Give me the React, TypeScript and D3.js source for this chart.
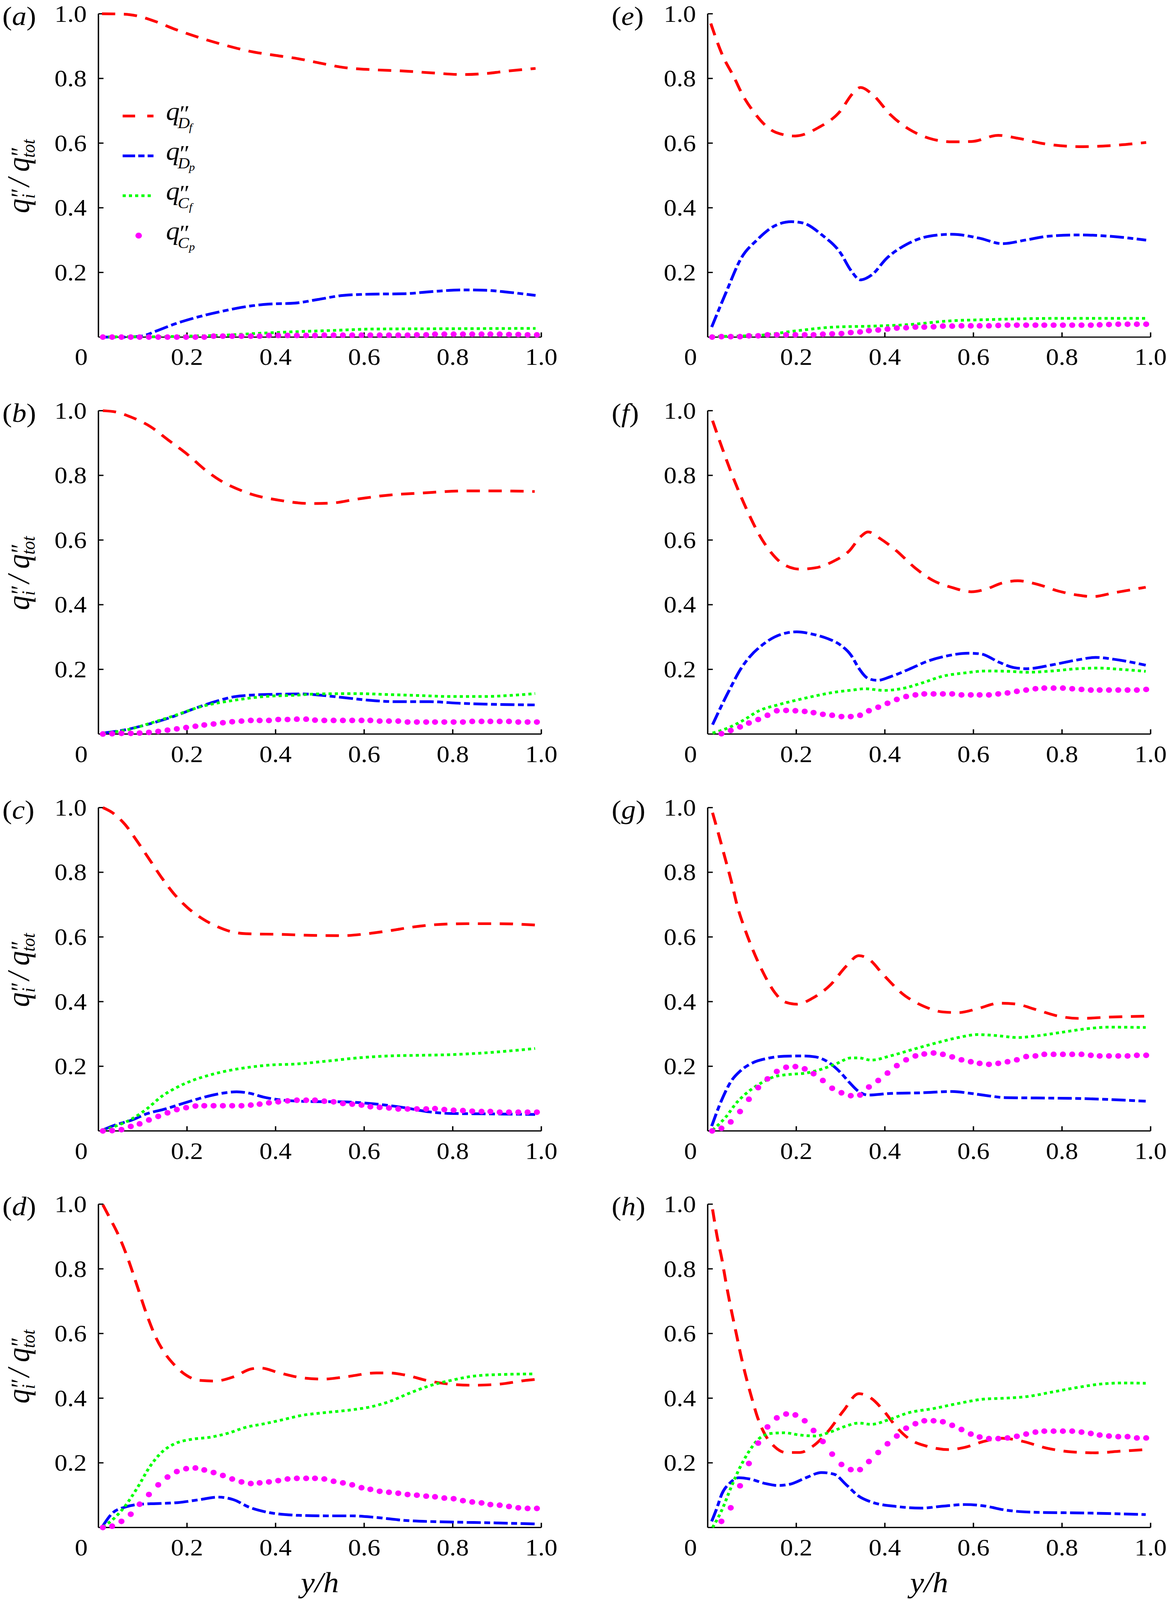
import React, { useEffect } from "react";
import * as d3 from "d3";

type Pt = [number, number];

// layout (reference pixels, viewBox units)
const FONT = "'Liberation Serif', 'Times New Roman', Times, serif";
const VW = 2988;
const VH = 4414;
const COL_X = [252, 1812];
const ROW_TOP = [38, 1133, 2228, 3322];
const PW = 1134;
const PH = 892;

const tickValues = [0.2, 0.4, 0.6, 0.8, 1.0];
const tickLabels = ["0.2", "0.4", "0.6", "0.8", "1.0"];

// y/h positions of the q''_Cp symbols (same grid in every panel)
const gridX = [
  0.010, 0.031, 0.052, 0.073, 0.093, 0.114, 0.135, 0.156, 0.177, 0.198, 0.219, 0.239,
  0.260, 0.281, 0.302, 0.323, 0.344, 0.364, 0.385, 0.406, 0.427, 0.448, 0.469, 0.489,
  0.510, 0.531, 0.552, 0.573, 0.594, 0.614, 0.635, 0.656, 0.677, 0.698, 0.719, 0.740,
  0.760, 0.781, 0.802, 0.823, 0.844, 0.865, 0.885, 0.906, 0.927, 0.948, 0.969, 0.990,
];

// (a)
const aDf: Pt[] = [[0.008,1.0],[0.055,0.999],[0.089,0.993],[0.131,0.975],[0.173,0.952],[0.224,0.928],[0.283,0.904],[0.342,0.884],[0.401,0.871],[0.451,0.861],[0.502,0.847],[0.553,0.834],[0.62,0.827],[0.688,0.823],[0.755,0.817],[0.823,0.812],[0.873,0.815],[0.924,0.823],[0.987,0.831]];
const aDp: Pt[] = [[0.008,0.0],[0.063,0.0],[0.097,0.003],[0.131,0.019],[0.173,0.041],[0.224,0.062],[0.283,0.081],[0.342,0.096],[0.384,0.102],[0.443,0.105],[0.494,0.116],[0.553,0.129],[0.62,0.133],[0.688,0.134],[0.755,0.141],[0.823,0.146],[0.873,0.145],[0.924,0.139],[0.987,0.129]];
const aCf: Pt[] = [[0.008,0.001],[0.114,0.001],[0.198,0.003],[0.283,0.006],[0.367,0.012],[0.451,0.017],[0.536,0.021],[0.62,0.025],[0.789,0.026],[0.987,0.027]];
const aCp = [0,0,0,0,0,0,0,0,0,0,0,0,0.003,0.003,0.003,0.003,0.003,0.003,0.005,0.005,0.005,0.005,0.005,0.005,0.006,0.006,0.006,0.006,0.006,0.006,0.006,0.006,0.006,0.006,0.007,0.007,0.009,0.009,0.009,0.009,0.009,0.009,0.009,0.009,0.008,0.008,0.007,0.007];

// (b)
const bDf: Pt[] = [[0.01,1.0],[0.039,0.996],[0.074,0.98],[0.116,0.952],[0.158,0.909],[0.2,0.866],[0.242,0.816],[0.284,0.777],[0.312,0.759],[0.347,0.741],[0.404,0.724],[0.48,0.713],[0.523,0.714],[0.586,0.727],[0.656,0.739],[0.726,0.745],[0.832,0.752],[0.902,0.752],[0.985,0.75]];
const bDp: Pt[] = [[0.01,0.003],[0.06,0.013],[0.095,0.024],[0.137,0.04],[0.179,0.059],[0.221,0.081],[0.263,0.1],[0.305,0.115],[0.34,0.12],[0.404,0.123],[0.46,0.124],[0.502,0.12],[0.551,0.113],[0.607,0.105],[0.677,0.1],[0.747,0.1],[0.818,0.095],[0.888,0.092],[0.985,0.09]];
const bCf: Pt[] = [[0.01,0.002],[0.074,0.016],[0.116,0.033],[0.165,0.054],[0.235,0.086],[0.305,0.104],[0.375,0.116],[0.446,0.12],[0.495,0.124],[0.586,0.125],[0.656,0.122],[0.726,0.119],[0.796,0.116],[0.867,0.116],[0.937,0.12],[0.986,0.125]];
const bCp = [0,0.001,0.002,0.002,0.003,0.005,0.008,0.012,0.016,0.02,0.024,0.028,0.031,0.035,0.038,0.04,0.042,0.042,0.042,0.045,0.045,0.046,0.046,0.043,0.042,0.042,0.042,0.042,0.042,0.042,0.04,0.04,0.04,0.037,0.037,0.037,0.037,0.037,0.037,0.037,0.039,0.039,0.039,0.039,0.039,0.037,0.037,0.037];

// (c)
const cDf: Pt[] = [[0.01,1.0],[0.032,0.984],[0.06,0.948],[0.088,0.895],[0.116,0.838],[0.144,0.781],[0.172,0.731],[0.2,0.692],[0.235,0.656],[0.27,0.631],[0.298,0.617],[0.333,0.61],[0.41,0.608],[0.481,0.605],[0.551,0.604],[0.607,0.61],[0.656,0.619],[0.712,0.631],[0.761,0.638],[0.832,0.641],[0.902,0.641],[0.986,0.637]];
const cDp: Pt[] = [[0.01,0.003],[0.039,0.019],[0.074,0.033],[0.109,0.053],[0.151,0.068],[0.193,0.086],[0.235,0.103],[0.277,0.116],[0.312,0.121],[0.34,0.117],[0.375,0.104],[0.418,0.095],[0.481,0.091],[0.551,0.09],[0.621,0.084],[0.691,0.072],[0.747,0.059],[0.796,0.054],[0.867,0.053],[0.986,0.051]];
const cCf: Pt[] = [[0.01,0.002],[0.039,0.015],[0.074,0.036],[0.109,0.068],[0.144,0.108],[0.179,0.136],[0.214,0.157],[0.249,0.172],[0.291,0.186],[0.34,0.197],[0.389,0.204],[0.446,0.207],[0.516,0.216],[0.586,0.226],[0.656,0.232],[0.726,0.234],[0.796,0.236],[0.867,0.241],[0.986,0.255]];
const cCp = [0,0.001,0.004,0.014,0.022,0.034,0.045,0.056,0.066,0.072,0.077,0.078,0.078,0.078,0.078,0.078,0.08,0.083,0.087,0.09,0.093,0.095,0.095,0.095,0.092,0.09,0.085,0.083,0.08,0.075,0.073,0.071,0.068,0.068,0.068,0.068,0.069,0.066,0.064,0.063,0.061,0.06,0.06,0.058,0.058,0.058,0.058,0.058];

// (d)
const dDf: Pt[] = [[0.01,0.998],[0.025,0.959],[0.046,0.902],[0.067,0.83],[0.088,0.745],[0.109,0.659],[0.13,0.587],[0.151,0.537],[0.172,0.502],[0.196,0.473],[0.228,0.455],[0.263,0.453],[0.305,0.466],[0.347,0.491],[0.368,0.493],[0.404,0.48],[0.46,0.463],[0.509,0.459],[0.558,0.466],[0.628,0.478],[0.656,0.478],[0.691,0.472],[0.747,0.453],[0.796,0.443],[0.846,0.44],[0.902,0.443],[0.965,0.455],[0.986,0.458]];
const dDp: Pt[] = [[0.01,0.005],[0.032,0.045],[0.06,0.063],[0.095,0.072],[0.13,0.074],[0.179,0.077],[0.228,0.086],[0.27,0.094],[0.305,0.086],[0.34,0.063],[0.375,0.049],[0.446,0.038],[0.516,0.036],[0.572,0.036],[0.628,0.031],[0.691,0.022],[0.761,0.018],[0.832,0.016],[0.902,0.014],[0.986,0.011]];
const dCf: Pt[] = [[0.01,0.002],[0.032,0.024],[0.06,0.066],[0.088,0.123],[0.116,0.188],[0.144,0.234],[0.172,0.259],[0.207,0.272],[0.256,0.28],[0.291,0.291],[0.333,0.31],[0.375,0.321],[0.418,0.334],[0.46,0.347],[0.509,0.355],[0.572,0.364],[0.614,0.373],[0.656,0.389],[0.698,0.413],[0.747,0.438],[0.796,0.455],[0.846,0.468],[0.902,0.473],[0.986,0.475]];
const dCp = [0,0.004,0.019,0.041,0.072,0.102,0.132,0.156,0.173,0.182,0.184,0.178,0.17,0.161,0.15,0.141,0.136,0.138,0.141,0.145,0.15,0.152,0.152,0.152,0.15,0.143,0.138,0.132,0.123,0.118,0.112,0.109,0.106,0.102,0.1,0.097,0.095,0.091,0.089,0.083,0.079,0.076,0.071,0.069,0.065,0.061,0.059,0.059];

// (e)
const eDf: Pt[] = [[0.007,0.97],[0.033,0.873],[0.059,0.805],[0.08,0.746],[0.102,0.7],[0.154,0.633],[0.197,0.622],[0.25,0.648],[0.3,0.7],[0.327,0.753],[0.345,0.772],[0.37,0.753],[0.414,0.686],[0.457,0.641],[0.5,0.615],[0.552,0.604],[0.596,0.605],[0.656,0.624],[0.7,0.615],[0.76,0.598],[0.847,0.589],[0.907,0.592],[0.99,0.602]];
const eDp: Pt[] = [[0.009,0.031],[0.042,0.14],[0.076,0.245],[0.111,0.3],[0.154,0.346],[0.189,0.357],[0.215,0.353],[0.258,0.316],[0.3,0.26],[0.323,0.207],[0.345,0.177],[0.37,0.192],[0.405,0.245],[0.448,0.286],[0.5,0.312],[0.552,0.318],[0.613,0.306],[0.665,0.289],[0.717,0.3],[0.769,0.312],[0.838,0.316],[0.907,0.312],[0.99,0.3]];
const eCf: Pt[] = [[0.009,0.002],[0.11,0.005],[0.197,0.019],[0.284,0.031],[0.37,0.034],[0.457,0.039],[0.544,0.05],[0.63,0.054],[0.8,0.058],[0.99,0.058]];
const eCp = [0,0.0015,0.0015,0.0015,0.004,0.004,0.007,0.007,0.007,0.007,0.007,0.007,0.009,0.01,0.011,0.014,0.016,0.02,0.022,0.025,0.028,0.029,0.031,0.031,0.032,0.034,0.034,0.035,0.035,0.035,0.035,0.036,0.037,0.037,0.037,0.037,0.037,0.037,0.037,0.037,0.037,0.037,0.038,0.039,0.04,0.04,0.04,0.04];

// (f)
const fDf: Pt[] = [[0.011,0.969],[0.032,0.887],[0.053,0.809],[0.074,0.738],[0.095,0.674],[0.116,0.617],[0.144,0.56],[0.172,0.524],[0.208,0.51],[0.243,0.514],[0.285,0.535],[0.32,0.567],[0.345,0.61],[0.362,0.625],[0.391,0.603],[0.426,0.567],[0.468,0.514],[0.51,0.474],[0.552,0.453],[0.595,0.44],[0.63,0.449],[0.665,0.467],[0.7,0.474],[0.742,0.464],[0.792,0.442],[0.834,0.43],[0.869,0.425],[0.918,0.437],[0.989,0.454]];
const fDp: Pt[] = [[0.011,0.029],[0.032,0.09],[0.053,0.147],[0.074,0.2],[0.095,0.239],[0.123,0.275],[0.151,0.3],[0.179,0.313],[0.201,0.316],[0.236,0.309],[0.271,0.295],[0.299,0.276],[0.324,0.243],[0.341,0.204],[0.362,0.172],[0.384,0.166],[0.412,0.177],[0.454,0.2],[0.496,0.225],[0.538,0.241],[0.588,0.25],[0.616,0.248],[0.658,0.222],[0.693,0.205],[0.721,0.202],[0.778,0.214],[0.834,0.229],[0.876,0.237],[0.918,0.231],[0.989,0.213]];
const fCf: Pt[] = [[0.011,0.003],[0.046,0.019],[0.081,0.043],[0.116,0.072],[0.158,0.09],[0.201,0.105],[0.243,0.118],[0.285,0.129],[0.327,0.136],[0.355,0.14],[0.398,0.135],[0.44,0.141],[0.482,0.157],[0.531,0.179],[0.581,0.189],[0.63,0.195],[0.679,0.194],[0.721,0.191],[0.778,0.195],[0.834,0.202],[0.883,0.204],[0.932,0.2],[0.989,0.194]];
const fCp = [null,0.001,0.011,0.022,0.034,0.045,0.058,0.072,0.073,0.072,0.07,0.066,0.061,0.058,0.054,0.054,0.058,0.072,0.083,0.095,0.107,0.116,0.121,0.124,0.124,0.124,0.124,0.121,0.121,0.121,0.121,0.124,0.127,0.132,0.136,0.14,0.142,0.142,0.142,0.14,0.138,0.136,0.136,0.136,0.136,0.136,0.136,0.138];

// (g)
const gDf: Pt[] = [[0.011,0.984],[0.025,0.916],[0.039,0.845],[0.053,0.774],[0.067,0.695],[0.084,0.624],[0.102,0.56],[0.123,0.496],[0.151,0.429],[0.172,0.4],[0.201,0.392],[0.236,0.41],[0.278,0.453],[0.313,0.51],[0.341,0.542],[0.362,0.533],[0.398,0.481],[0.44,0.424],[0.489,0.385],[0.531,0.368],[0.566,0.366],[0.609,0.378],[0.658,0.395],[0.693,0.393],[0.742,0.375],[0.792,0.355],[0.841,0.348],[0.904,0.352],[0.989,0.355]];
const gDp: Pt[] = [[0.009,0.015],[0.032,0.097],[0.053,0.154],[0.074,0.186],[0.102,0.211],[0.137,0.225],[0.172,0.231],[0.215,0.232],[0.243,0.229],[0.271,0.214],[0.299,0.182],[0.32,0.15],[0.341,0.122],[0.362,0.111],[0.412,0.116],[0.482,0.118],[0.552,0.122],[0.595,0.116],[0.637,0.108],[0.672,0.103],[0.742,0.102],[0.848,0.1],[0.989,0.092]];
const gCf: Pt[] = [[0.011,0.003],[0.039,0.04],[0.067,0.09],[0.095,0.125],[0.123,0.15],[0.151,0.168],[0.186,0.175],[0.222,0.179],[0.257,0.191],[0.292,0.209],[0.324,0.226],[0.341,0.226],[0.369,0.219],[0.412,0.232],[0.468,0.254],[0.524,0.275],[0.566,0.289],[0.609,0.298],[0.651,0.295],[0.7,0.289],[0.742,0.294],[0.799,0.305],[0.855,0.316],[0.904,0.321],[0.989,0.32]];
const gCp = [0,0.008,0.028,0.06,0.098,0.134,0.161,0.184,0.197,0.199,0.192,0.177,0.156,0.132,0.118,0.109,0.111,0.136,0.156,0.179,0.202,0.22,0.232,0.238,0.241,0.237,0.229,0.22,0.214,0.209,0.206,0.209,0.214,0.22,0.23,0.232,0.237,0.237,0.237,0.237,0.237,0.234,0.232,0.232,0.232,0.232,0.234,0.234];

// (h)
const hDf: Pt[] = [[0.011,0.984],[0.021,0.902],[0.032,0.83],[0.042,0.752],[0.053,0.674],[0.064,0.603],[0.074,0.538],[0.085,0.474],[0.099,0.403],[0.113,0.339],[0.13,0.286],[0.151,0.25],[0.176,0.232],[0.208,0.232],[0.236,0.25],[0.271,0.296],[0.306,0.36],[0.341,0.414],[0.369,0.4],[0.398,0.36],[0.426,0.311],[0.454,0.275],[0.496,0.251],[0.545,0.241],[0.581,0.248],[0.623,0.266],[0.665,0.276],[0.707,0.268],[0.764,0.246],[0.82,0.234],[0.876,0.231],[0.932,0.236],[0.989,0.241]];
const hDp: Pt[] = [[0.009,0.019],[0.021,0.061],[0.032,0.104],[0.049,0.136],[0.07,0.154],[0.095,0.15],[0.13,0.136],[0.158,0.13],[0.186,0.134],[0.222,0.154],[0.257,0.17],[0.285,0.165],[0.313,0.132],[0.341,0.097],[0.369,0.079],[0.426,0.065],[0.482,0.06],[0.531,0.066],[0.581,0.071],[0.623,0.067],[0.672,0.054],[0.742,0.047],[0.848,0.045],[0.989,0.04]];
const hCf: Pt[] = [[0.011,0.0],[0.032,0.054],[0.053,0.125],[0.074,0.189],[0.095,0.239],[0.116,0.275],[0.144,0.291],[0.172,0.293],[0.208,0.286],[0.243,0.283],[0.278,0.296],[0.313,0.314],[0.341,0.323],[0.369,0.319],[0.412,0.335],[0.454,0.355],[0.51,0.368],[0.567,0.384],[0.623,0.397],[0.672,0.4],[0.721,0.405],[0.778,0.419],[0.834,0.433],[0.89,0.444],[0.939,0.447],[0.989,0.446]];
const hCp = [null,0.019,0.061,0.129,0.198,0.261,0.311,0.339,0.351,0.348,0.33,0.3,0.266,0.227,0.195,0.179,0.179,0.204,0.232,0.259,0.283,0.307,0.321,0.33,0.33,0.327,0.316,0.303,0.289,0.28,0.275,0.275,0.277,0.282,0.289,0.295,0.298,0.298,0.298,0.298,0.295,0.291,0.286,0.283,0.281,0.281,0.277,0.277];

type Panel = { id: string; col: number; row: number; df: Pt[]; dp: Pt[]; cf: Pt[]; cp: (number | null)[] };

const panels: Panel[] = [
  { id: "a", col: 0, row: 0, df: aDf, dp: aDp, cf: aCf, cp: aCp },
  { id: "b", col: 0, row: 1, df: bDf, dp: bDp, cf: bCf, cp: bCp },
  { id: "c", col: 0, row: 2, df: cDf, dp: cDp, cf: cCf, cp: cCp },
  { id: "d", col: 0, row: 3, df: dDf, dp: dDp, cf: dCf, cp: dCp },
  { id: "e", col: 1, row: 0, df: eDf, dp: eDp, cf: eCf, cp: eCp },
  { id: "f", col: 1, row: 1, df: fDf, dp: fDp, cf: fCf, cp: fCp },
  { id: "g", col: 1, row: 2, df: gDf, dp: gDp, cf: gCf, cp: gCp },
  { id: "h", col: 1, row: 3, df: hDf, dp: hDp, cf: hCf, cp: hCp },
];

const RED = "#ff0000";
const BLUE = "#0000ff";
const GREEN = "#00ff00";
const MAGENTA = "#ff00ff";
const LW = 7.5;
const DOT_R = 7.8;

const lineStyles = [
  { color: RED, dash: "34 22", legendDash: "32 31" },
  { color: BLUE, dash: "36 9 15 9", legendDash: "32 8 16 8" },
  { color: GREEN, dash: "8 8", legendDash: "8 8" },
];

const legendSubs = [
  ["D", "f"],
  ["D", "p"],
  ["C", "f"],
  ["C", "p"],
];

function Legend() {
  const ys = [320, 430, 540, 650];
  return (
    <g fontFamily={FONT} fontStyle="italic" fill="#000">
      {ys.map((ly, i) => (
        <g key={i}>
          {i < 3 ? (
            <line x1={314} x2={393} y1={ly} y2={ly} stroke={lineStyles[i].color} strokeWidth={LW}
              strokeDasharray={lineStyles[i].legendDash} />
          ) : (
            <circle cx={355} cy={ly} r={DOT_R + 0.5} fill={MAGENTA} />
          )}
          {/* q'' with a two-level subscript, as one text */}
          <text x={425} y={ly + 11} fontSize={70}>
            q
            <tspan x={456} y={ly + 14} fontSize={62}>″</tspan>
            <tspan x={455} y={ly + 34} fontSize={43}>{legendSubs[i][0]}</tspan>
            <tspan x={484} y={ly + 41} fontSize={30}>{legendSubs[i][1]}</tspan>
          </text>
        </g>
      ))}
    </g>
  );
}

function YLabel({ cy }: { cy: number }) {
  // rotated: local x runs upwards, local y runs to the right
  return (
    <text transform={`translate(74,${cy}) rotate(-90)`} x={-104} y={0}
      fontFamily={FONT} fontStyle="italic" fontSize={80} fill="#000">
      q
      <tspan x={-65} y={-2} fontSize={64}>″</tspan>
      <tspan x={-64} y={15} fontSize={48}>i</tspan>
      <tspan x={-30} y={0} fontSize={80}>/</tspan>
      <tspan x={10} y={0} fontSize={80}>q</tspan>
      <tspan x={49} y={-2} fontSize={64}>″</tspan>
      <tspan x={49} y={15} fontSize={48}>tot</tspan>
    </text>
  );
}

function PanelView({ p }: { p: Panel }) {
  const x0 = COL_X[p.col];
  const top = ROW_TOP[p.row];
  const bottom = top + PH;
  const x = d3.scaleLinear().domain([0, 1]).range([x0, x0 + PW]);
  const y = d3.scaleLinear().domain([0, 1]).range([bottom, top]);
  const line = d3
    .line<Pt>()
    .x((d) => x(d[0]))
    .y((d) => y(d[1]))
    .curve(d3.curveMonotoneX);

  const series = [p.df, p.dp, p.cf];

  return (
    <g>
      {/* axes: left and bottom only, ticks point inwards */}
      <g stroke="#000" strokeWidth={3.5} fill="none">
        <line x1={x(0)} x2={x(0)} y1={y(1)} y2={y(0)} />
        <line x1={x(0)} x2={x(1)} y1={y(0)} y2={y(0)} />
        {tickValues.map((t) => (
          <line key={"y" + t} x1={x(0)} x2={x(0) + 13} y1={y(t)} y2={y(t)} />
        ))}
        {tickValues.map((t) => (
          <line key={"x" + t} x1={x(t)} x2={x(t)} y1={y(0)} y2={y(0) - 13} />
        ))}
      </g>
      <g fontFamily={FONT} fontSize={66} fill="#000">
        {tickValues.map((t, i) => (
          <text key={"yl" + t} x={x(0) - 30} y={y(t) + 22} textAnchor="end">{tickLabels[i]}</text>
        ))}
        {tickValues.map((t, i) => (
          <text key={"xl" + t} x={x(t)} y={y(0) + 77} textAnchor="middle">{tickLabels[i]}</text>
        ))}
        <text x={x(0) - 44} y={y(0) + 77} textAnchor="middle">0</text>
        <text x={x0 - 246} y={top + 31} fontSize={74}>
          (<tspan fontStyle="italic">{p.id}</tspan>)
        </text>
      </g>

      {/* curves */}
      {series.map((s, i) => (
        <path key={i} d={line(s) || ""} fill="none" stroke={lineStyles[i].color} strokeWidth={LW}
          strokeDasharray={lineStyles[i].dash} />
      ))}
      {p.cp.map((v, i) =>
        v === null ? null : <circle key={"c" + i} cx={x(gridX[i])} cy={y(v)} r={DOT_R} fill={MAGENTA} />
      )}

      {p.col === 0 && <YLabel cy={(top + bottom) / 2} />}
      {p.row === 3 && (
        <text x={x(0.5)} y={4392} textAnchor="middle" fontFamily={FONT} fontStyle="italic" fontSize={80}>
          y/h
        </text>
      )}
    </g>
  );
}

export default function App() {
  useEffect(() => {
    document.body.style.margin = "0";
    document.body.style.overflow = "hidden";
  }, []);

  // the whole figure is fitted to the visible window
  return (
    <svg viewBox={`0 0 ${VW} ${VH}`} preserveAspectRatio="none"
      style={{ position: "fixed", left: 0, top: 0, width: "100vw", height: "100vh", display: "block", background: "#fff" }}>
      <rect x={0} y={0} width={VW} height={VH} fill="#fff" />
      {panels.map((p) => (
        <PanelView key={p.id} p={p} />
      ))}
      <Legend />
    </svg>
  );
}
